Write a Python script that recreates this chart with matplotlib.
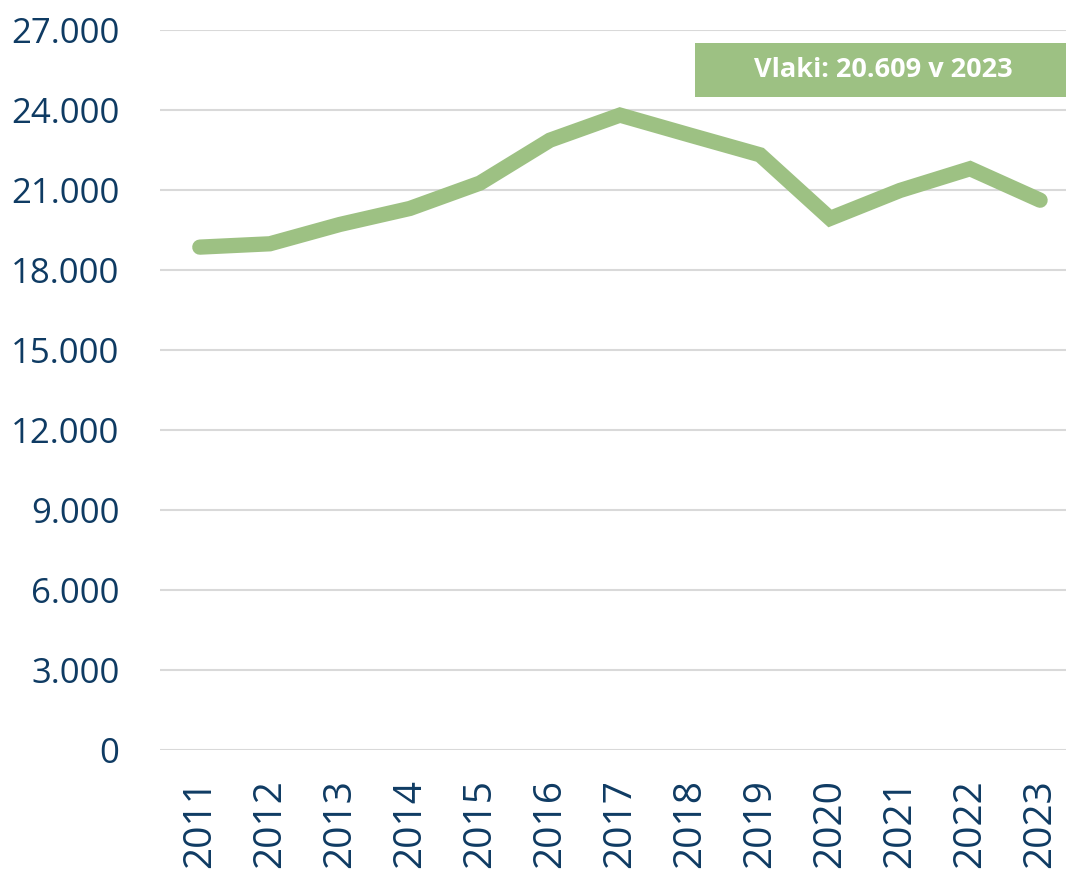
import matplotlib.pyplot as plt
from matplotlib.ticker import FuncFormatter

# data
years = ['2011', '2012', '2013', '2014', '2015', '2016', '2017',
         '2018', '2019', '2020', '2021', '2022', '2023']
trains = [18850, 18975, 19700, 20300, 21250, 22860, 23800,
          23050, 22310, 19925, 20975, 21790, 20609]
y_ticks = [0, 3000, 6000, 9000, 12000, 15000, 18000, 21000, 24000, 27000]
label_text = "Vlaki: 20.609 v 2023"

plt.rcParams['font.family'] = ['Open Sans', 'DejaVu Sans']
green = '#9DC183'
navy = '#0F3B63'

fig = plt.figure(figsize=(10.66, 8.75), dpi=100)
ax = fig.add_axes([0.150, 0.143, 0.850, 0.823])

x = list(range(len(years)))
ax.plot(x, trains, color=green, linewidth=11,
        solid_capstyle='round', solid_joinstyle='miter', zorder=3)

ax.set_ylim(0, 27000)
ax.set_xlim(-0.57, 12.37)
ax.set_yticks(y_ticks)
ax.yaxis.set_major_formatter(FuncFormatter(lambda v, p: f"{int(v):,}".replace(',', '.')))
ax.set_xticks(x)
ax.set_xticklabels(years, rotation=90)

ax.grid(axis='y', color='#D9D9D9', linewidth=1.5, zorder=0)
ax.set_axisbelow(True)
for s in ax.spines.values():
    s.set_visible(False)
ax.tick_params(axis='both', length=0, colors=navy)
ax.tick_params(axis='y', pad=29, labelsize=25)
ax.tick_params(axis='x', pad=21, labelsize=28)

# annotation box in the top right
fig.patches.append(plt.Rectangle((695 / 1066, 1 - 97 / 875), (1066 - 695) / 1066, 54 / 875,
                                 transform=fig.transFigure, facecolor=green,
                                 edgecolor='none', zorder=4))
fig.text(0.829, 0.920, label_text, ha='center', va='center',
         fontsize=19.5, fontweight='bold', color='white', zorder=5)

fig.savefig('out.png', dpi=100)
